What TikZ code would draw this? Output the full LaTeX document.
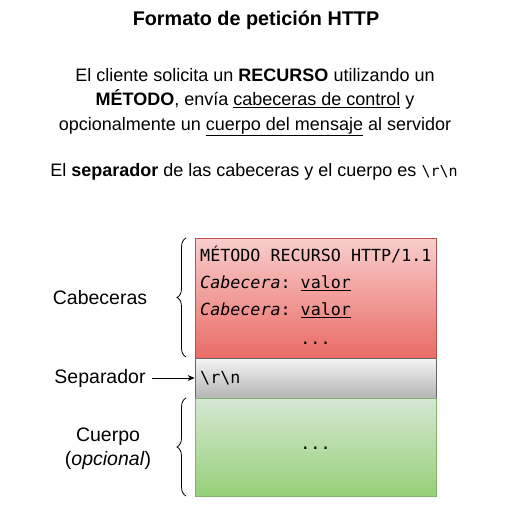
\documentclass[tikz,border=0pt]{standalone}
\usepackage{fontspec}
\setmainfont{Liberation Sans}
\setmonofont{DejaVu Sans Mono}
\usetikzlibrary{arrows.meta,decorations.pathreplacing}
\definecolor{redtop}{HTML}{F8CECC}
\definecolor{redbot}{HTML}{EA6B66}
\definecolor{redline}{HTML}{B85450}
\definecolor{graytop}{HTML}{F5F5F5}
\definecolor{graybot}{HTML}{B3B3B3}
\definecolor{grayline}{HTML}{666666}
\definecolor{greentop}{HTML}{D5E8D4}
\definecolor{greenbot}{HTML}{97D077}
\definecolor{greenline}{HTML}{82B366}
\tikzset{
  part/.style={draw, line width=0.8pt, minimum width=241pt, inner sep=0pt},
  mono/.style={anchor=west, inner sep=0pt, font=\fontsize{16.7}{18}\selectfont\ttfamily},
  label/.style={inner sep=0pt, align=center, font=\fontsize{19.5}{24}\selectfont},
  bracedeco/.style={decorate, decoration={brace, amplitude=9pt}, line width=0.8pt},
}
\begin{document}
\begin{tikzpicture}[x=1pt,y=-1pt]
\useasboundingbox (0,0) rectangle (512,512);
\node[inner sep=0pt, font=\fontsize{19.8}{22}\selectfont\bfseries] (title) at (256,20) {Formato de petición HTTP};
\node[inner sep=0pt, align=center, font=\fontsize{18}{24.5}\selectfont] (desc) at (255,102) {El cliente solicita un \textbf{RECURSO} utilizando un\\ \textbf{MÉTODO}, envía \underline{cabeceras de control} y\\ opcionalmente un \underline{cuerpo del mensaje} al servidor};
\node[inner sep=0pt, font=\fontsize{18}{24}\selectfont] (sep) at (254,172) {El \textbf{separador} de las cabeceras y el cuerpo es {\fontsize{15}{18}\selectfont\ttfamily\textbackslash r\textbackslash n}};

\node[part, draw=redline, top color=redtop, bottom color=redbot, minimum height=120pt] (head) at (315.5,298) {};
\node[part, draw=grayline, top color=graytop, bottom color=graybot, minimum height=40pt] (crlf) at (315.5,378) {};
\node[part, draw=greenline, top color=greentop, bottom color=greenbot, minimum height=98pt] (body) at (315.5,447) {};

\node[mono] (l1) at (200,255) {MÉTODO RECURSO HTTP/1.1};
\node[mono] (l2) at (200,283) {\textit{Cabecera}: \underline{valor}};
\node[mono] (l3) at (200,310) {\textit{Cabecera}: \underline{valor}};
\node[mono, anchor=center] (l4) at (315.5,343) {...};
\node[mono] (l5) at (200,378) {\textbackslash r\textbackslash n};
\node[mono, anchor=center] (l6) at (315.5,448) {...};

\coordinate (hb1) at (186,357);
\coordinate (hb2) at (186,238);
\draw[bracedeco] (hb1) -- (hb2);
\coordinate (bb1) at (186,496);
\coordinate (bb2) at (186,398);
\draw[bracedeco] (bb1) -- (bb2);

\node[label] (cab) at (100,298) {Cabeceras};
\node[label] (sepl) at (100,378) {Separador};
\node[label] (cue) at (108,449) {Cuerpo\\(\textit{opcional})};
\coordinate (arrstart) at (152,378);
\draw[-{Stealth[length=7pt,width=6pt]}, line width=0.8pt] (arrstart) -- (crlf.west);
\end{tikzpicture}
\end{document}
